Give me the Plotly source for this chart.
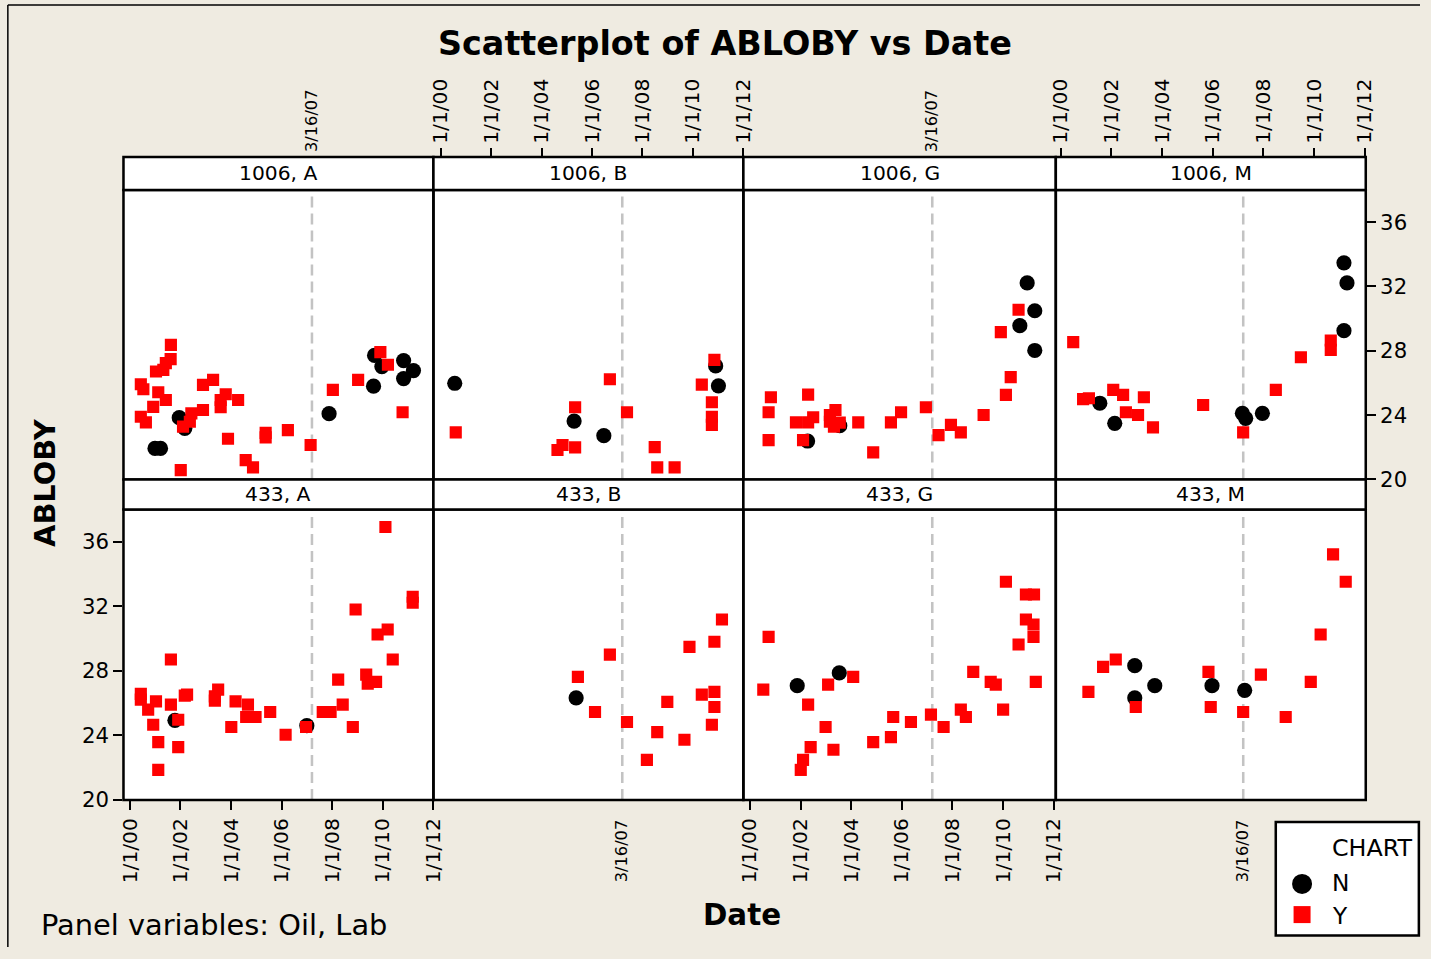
import plotly.graph_objects as go

# Elements are positioned in the 1431x959 pixel frame of the reference picture.
W, H = 1431, 959
# The photographed page shows up slightly reduced and shifted; compensate for it.
VIEW_SCALE = 0.9876
VIEW_DX, VIEW_DY = 7.0, 0.0
FONT = "DejaVu Sans"

# ---------------- axis labels ----------------
tick_years = [2000, 2002, 2004, 2006, 2008, 2010, 2012]
tick_labels = ["1/1/00", "1/1/02", "1/1/04", "1/1/06", "1/1/08", "1/1/10", "1/1/12"]
ref_date = 2007.203          # 3/16/07 as decimal year
ref_label = "3/16/07"
y_ticks = [20, 24, 28, 32, 36]

oils = ["1006", "433"]
labs = ["A", "B", "G", "M"]

# ---------------- data (Date as decimal year, ABLOBY) ----------------
# Oil 1006, Lab A
date_1006A_N = [2000.99, 2001.21, 2001.95, 2002.17, 2007.88, 2009.68, 2009.97, 2010.83, 2011.22, 2010.83, 2009.64]
abloby_1006A_N = [21.93, 21.93, 23.84, 23.18, 24.09, 27.71, 27.02, 27.39, 26.77, 26.27, 25.80]
date_1006A_Y = [2001.62, 2001.61, 2001.42, 2001.32, 2001.03, 2000.43, 2000.53, 2001.12, 2001.42, 2000.92,
                2000.43, 2000.63, 2002.89, 2003.29, 2003.79, 2003.59, 2003.59, 2004.28, 2002.89, 2002.43,
                2002.37, 2002.10, 2003.88, 2005.37, 2005.37, 2006.25, 2007.15, 2004.58, 2004.87, 2002.01,
                2008.03, 2009.03, 2009.91, 2010.21, 2010.79]
abloby_1006A_Y = [28.37, 27.48, 27.23, 26.81, 26.71, 25.92, 25.61, 25.42, 24.94, 24.51,
                  23.90, 23.55, 25.88, 26.19, 25.30, 24.94, 24.49, 24.94, 24.32, 24.11,
                  23.59, 23.28, 22.53, 22.90, 22.62, 23.07, 22.14, 21.20, 20.75, 20.58,
                  25.57, 26.19, 27.92, 27.13, 24.18]

# Oil 1006, Lab B
date_1006B_N = [2000.55, 2005.29, 2006.47, 2010.91, 2011.02]
abloby_1006B_N = [25.98, 23.63, 22.72, 27.06, 25.82]
date_1006B_Y = [2000.59, 2005.33, 2006.71, 2007.39, 2005.33, 2004.83, 2004.63, 2008.49, 2008.59, 2009.28,
                2010.36, 2010.86, 2010.76, 2010.76, 2010.76]
abloby_1006B_Y = [22.93, 24.49, 26.23, 24.18, 21.99, 22.14, 21.83, 22.01, 20.75, 20.75,
                  25.90, 27.44, 24.80, 23.90, 23.39]

# Oil 1006, Lab G
date_1006G_N = [2002.28, 2003.55, 2010.95, 2011.25, 2010.66, 2011.25]
abloby_1006G_N = [22.39, 23.34, 32.22, 30.49, 29.56, 28.02]
date_1006G_Y = [2000.83, 2000.74, 2000.74, 2002.30, 2001.82, 2002.30, 2002.50, 2002.10, 2003.16, 2003.38,
                2003.16, 2003.32, 2003.55, 2004.28, 2004.87, 2005.57, 2005.97, 2006.95, 2007.45, 2007.94,
                2008.33, 2009.23, 2010.11, 2010.30, 2009.91, 2010.61]
abloby_1006G_Y = [25.11, 24.18, 22.45, 25.27, 23.55, 23.55, 23.87, 22.45, 24.01, 24.32,
                  23.59, 23.28, 23.53, 23.55, 21.68, 23.55, 24.18, 24.49, 22.76, 23.39,
                  22.93, 24.01, 25.26, 26.36, 29.16, 30.55]

# Oil 1006, Lab M
date_1006M_N = [2001.54, 2002.13, 2007.17, 2007.30, 2007.96, 2011.18, 2011.30, 2011.18]
abloby_1006M_N = [24.74, 23.49, 24.11, 23.80, 24.11, 33.47, 32.22, 29.25]
date_1006M_Y = [2000.49, 2000.88, 2001.11, 2002.07, 2002.46, 2003.28, 2002.57, 2003.05, 2003.64, 2005.62,
                2007.20, 2008.49, 2009.48, 2010.66, 2010.66]
abloby_1006M_Y = [28.54, 24.99, 25.05, 25.57, 25.26, 25.11, 24.18, 24.01, 23.24, 24.63,
                  22.93, 25.57, 27.60, 28.64, 28.06]

# Oil 433, Lab A
date_433A_N = [2001.78, 2007.00]
abloby_433A_N = [24.93, 24.60]
date_433A_Y = [2000.43, 2000.43, 2000.72, 2001.03, 2000.92, 2001.12, 2001.12, 2001.62, 2001.62, 2001.91,
               2001.91, 2002.17, 2002.26, 2003.36, 2003.49, 2003.36, 2004.18, 2004.01, 2004.67, 2004.60,
               2004.97, 2005.55, 2006.16, 2006.97, 2007.63, 2007.94, 2008.24, 2008.42, 2008.82, 2008.93,
               2009.35, 2009.41, 2009.74, 2009.80, 2010.20, 2010.11, 2010.40, 2011.19, 2011.19]
abloby_433A_Y = [26.57, 26.21, 25.59, 26.11, 24.66, 23.58, 21.86, 28.70, 25.90, 24.97,
                 23.27, 26.46, 26.52, 26.42, 26.83, 26.15, 26.11, 24.52, 25.90, 25.14,
                 25.14, 25.45, 24.04, 24.52, 25.45, 25.45, 27.45, 25.90, 24.52, 31.80,
                 27.76, 27.20, 27.31, 30.25, 30.56, 36.91, 28.70, 32.59, 32.22]

# Oil 433, Lab B
date_433B_N = [2005.37]
abloby_433B_N = [26.32]
date_433B_Y = [2005.44, 2006.71, 2006.12, 2007.39, 2008.18, 2008.59, 2008.99, 2009.67, 2009.87, 2010.36,
               2010.86, 2010.86, 2010.76, 2010.86, 2011.16]
abloby_433B_Y = [27.62, 29.00, 25.45, 24.83, 22.48, 24.20, 26.07, 23.73, 29.48, 26.52,
                 26.69, 25.76, 24.66, 29.80, 31.18]

# Oil 433, Lab G
date_433G_N = [2001.87, 2003.53]
abloby_433G_N = [27.08, 27.87]
date_433G_Y = [2000.74, 2000.53, 2002.30, 2003.09, 2004.08, 2002.99, 2002.40, 2002.10, 2002.01, 2003.30,
               2004.87, 2005.57, 2005.66, 2006.36, 2007.15, 2007.65, 2008.33, 2008.53, 2008.82, 2009.51,
               2009.71, 2010.00, 2010.11, 2010.90, 2011.22, 2010.90, 2011.20, 2011.20, 2010.61, 2011.29]
abloby_433G_Y = [30.10, 26.83, 25.90, 27.14, 27.62, 24.52, 23.27, 22.48, 21.86, 23.11,
                 23.58, 23.89, 25.14, 24.83, 25.28, 24.52, 25.59, 25.14, 27.93, 27.31,
                 27.14, 25.59, 33.52, 32.73, 32.73, 31.18, 30.87, 30.10, 29.63, 27.31]

# Oil 433, Lab M
date_433M_N = [2002.92, 2002.92, 2003.71, 2005.97, 2007.26]
abloby_433M_N = [28.32, 26.32, 27.08, 27.08, 26.79]
date_433M_Y = [2001.09, 2001.67, 2002.17, 2002.96, 2005.83, 2005.92, 2007.20, 2007.90, 2008.88, 2009.87,
               2010.26, 2010.75, 2011.25]
abloby_433M_Y = [26.69, 28.24, 28.70, 25.76, 27.93, 25.76, 25.45, 27.76, 25.14, 27.31,
                 30.25, 35.22, 33.52]

data = {
    ("1006", "A"): (date_1006A_N, abloby_1006A_N, date_1006A_Y, abloby_1006A_Y),
    ("1006", "B"): (date_1006B_N, abloby_1006B_N, date_1006B_Y, abloby_1006B_Y),
    ("1006", "G"): (date_1006G_N, abloby_1006G_N, date_1006G_Y, abloby_1006G_Y),
    ("1006", "M"): (date_1006M_N, abloby_1006M_N, date_1006M_Y, abloby_1006M_Y),
    ("433", "A"): (date_433A_N, abloby_433A_N, date_433A_Y, abloby_433A_Y),
    ("433", "B"): (date_433B_N, abloby_433B_N, date_433B_Y, abloby_433B_Y),
    ("433", "G"): (date_433G_N, abloby_433G_N, date_433G_Y, abloby_433G_Y),
    ("433", "M"): (date_433M_N, abloby_433M_N, date_433M_Y, abloby_433M_Y),
}

# ---------------- layout geometry (pixels of the reference frame) ----------------
col_px = [(123.5, 433.5), (433.5, 743.5), (743.5, 1056.0), (1056.0, 1366.0)]
col_x0 = [130.0, 441.0, 750.0, 1061.0]      # pixel of 1/1/00 in each column
PX_PER_YEAR = 25.33
row_px = [(190.0, 479.5), (509.5, 800.0)]
strip_px = [(157.0, 190.0), (479.5, 509.5)]


def px(x):
    return (x - VIEW_DX) / (VIEW_SCALE * W)


def py(y):
    return 1 - (y - VIEW_DY) / (VIEW_SCALE * H)


def sz(v):
    return v / VIEW_SCALE


RED = "#FF0000"
BLACK = "#000000"
BG = "#EFEBE1"
BORDER_W = sz(2.5)

fig = go.Figure()
shapes = []
annotations = []
layout_axes = {}

date_tick_style = dict(
    ticks="outside", ticklen=sz(9), tickwidth=sz(2), tickcolor=BLACK,
    tickmode="array", tickvals=tick_years, ticktext=tick_labels,
    tickangle=-90, showticklabels=True,
    tickfont=dict(family=FONT, size=sz(20), color=BLACK),
)
y_tick_style = dict(
    ticks="outside", ticklen=sz(9), tickwidth=sz(2), tickcolor=BLACK,
    tickmode="array", tickvals=y_ticks, showticklabels=True,
    tickfont=dict(family=FONT, size=sz(21), color=BLACK),
)

for r, oil in enumerate(oils):
    for c, lab in enumerate(labs):
        k = r * 4 + c + 1
        xa = "x" if k == 1 else f"x{k}"
        ya = "y" if k == 1 else f"y{k}"
        dN, vN, dY, vY = data[(oil, lab)]

        fig.add_trace(go.Scatter(
            x=dN, y=vN, xaxis=xa, yaxis=ya, mode="markers", name="N",
            legendgroup="N", showlegend=False,
            marker=dict(symbol="circle", size=sz(15), color=BLACK, line=dict(width=0)),
        ))
        fig.add_trace(go.Scatter(
            x=dY, y=vY, xaxis=xa, yaxis=ya, mode="markers", name="Y",
            legendgroup="Y", showlegend=False,
            marker=dict(symbol="square", size=sz(12), color=RED, line=dict(width=0)),
        ))

        left, right = col_px[c]
        top, bot = row_px[r]
        x_lo = 2000 + (left - col_x0[c]) / PX_PER_YEAR
        x_hi = max(2000 + (right - col_x0[c]) / PX_PER_YEAR, 2012.01)

        xaxis = dict(domain=[px(left), px(right)], range=[x_lo, x_hi], anchor=ya,
                     showgrid=False, zeroline=False, showline=False,
                     ticks="", showticklabels=False)
        if r == 1 and c in (0, 2):
            xaxis.update(date_tick_style)
            xaxis.update(side="bottom")
        if r == 0 and c in (1, 3):
            xaxis.update(date_tick_style)
            xaxis.update(side="top", anchor="free", position=py(strip_px[0][0]))

        yaxis = dict(domain=[py(bot), py(top)], range=[20, 38], anchor=xa,
                     showgrid=False, zeroline=False, showline=False,
                     ticks="", showticklabels=False)
        if r == 1 and c == 0:
            yaxis.update(y_tick_style)
            yaxis.update(side="left")
        if r == 0 and c == 3:
            yaxis.update(y_tick_style)
            yaxis.update(side="right")

        layout_axes["xaxis" if k == 1 else f"xaxis{k}"] = xaxis
        layout_axes["yaxis" if k == 1 else f"yaxis{k}"] = yaxis

        # reference line at 3/16/07
        shapes.append(dict(type="line", xref=xa, yref=f"{ya} domain",
                           x0=ref_date, x1=ref_date, y0=0, y1=1,
                           line=dict(color="#C3C3C3", width=sz(2.5), dash="11px,6px"),
                           layer="below"))
        # panel border
        shapes.append(dict(type="rect", xref="paper", yref="paper",
                           x0=px(left), x1=px(right), y0=py(bot), y1=py(top),
                           line=dict(color=BLACK, width=BORDER_W), layer="above"))
        # strip
        s_top, s_bot = strip_px[r]
        shapes.append(dict(type="rect", xref="paper", yref="paper",
                           x0=px(left), x1=px(right), y0=py(s_bot), y1=py(s_top),
                           fillcolor="white", line=dict(color=BLACK, width=BORDER_W),
                           layer="above"))
        annotations.append(dict(text=f"{oil}, {lab}", xref="paper", yref="paper",
                                x=px((left + right) / 2), y=py((s_top + s_bot) / 2),
                                xanchor="center", yanchor="middle", showarrow=False,
                                font=dict(family=FONT, size=sz(20), color=BLACK)))

        # reference-date labels
        if r == 0 and c in (0, 2):
            annotations.append(dict(text=ref_label, xref=xa, yref="paper",
                                    x=ref_date, y=py(154), xanchor="center", yanchor="bottom",
                                    textangle=-90, showarrow=False,
                                    font=dict(family=FONT, size=sz(16), color=BLACK)))
        if r == 1 and c in (1, 3):
            annotations.append(dict(text=ref_label, xref=xa, yref="paper",
                                    x=ref_date, y=py(818), xanchor="center", yanchor="top",
                                    textangle=-90, showarrow=False,
                                    font=dict(family=FONT, size=sz(16), color=BLACK)))

# titles and notes
annotations += [
    dict(text="<b>Scatterplot of ABLOBY vs Date</b>", xref="paper", yref="paper",
         x=px(725), y=py(44), xanchor="center", yanchor="middle", showarrow=False,
         font=dict(family=FONT, size=sz(33), color=BLACK)),
    dict(text="<b>ABLOBY</b>", xref="paper", yref="paper",
         x=px(45), y=py(482), xanchor="center", yanchor="middle", textangle=-90,
         showarrow=False, font=dict(family=FONT, size=sz(28.5), color=BLACK)),
    dict(text="<b>Date</b>", xref="paper", yref="paper",
         x=px(742), y=py(915), xanchor="center", yanchor="middle",
         showarrow=False, font=dict(family=FONT, size=sz(29), color=BLACK)),
    dict(text="Panel variables: Oil, Lab", xref="paper", yref="paper",
         x=px(39), y=py(925), xanchor="left", yanchor="middle",
         showarrow=False, font=dict(family=FONT, size=sz(28.5), color=BLACK)),
]

# legend (drawn manually) and outer frame (kept inside the page)
shapes += [
    dict(type="rect", xref="paper", yref="paper", x0=px(1276), x1=min(px(1429.5), 0.9992),
         y0=py(935.5), y1=py(822), fillcolor="white",
         line=dict(color=BLACK, width=BORDER_W), layer="above"),
    dict(type="circle", xref="paper", yref="paper", x0=px(1292.3), x1=px(1312.3),
         y0=py(894), y1=py(874), fillcolor=BLACK, line=dict(width=0), layer="above"),
    dict(type="rect", xref="paper", yref="paper", x0=px(1293.8), x1=px(1310.8),
         y0=py(923.2), y1=py(906.2), fillcolor=RED, line=dict(width=0), layer="above"),
    dict(type="line", xref="paper", yref="paper", x0=0.0006, x1=0.0006, y0=0, y1=py(5),
         line=dict(color=BLACK, width=1.5), layer="below"),
    dict(type="line", xref="paper", yref="paper", x0=0.0006, x1=1, y0=py(5), y1=py(5),
         line=dict(color=BLACK, width=1.5), layer="below"),
]
annotations += [
    dict(text="CHART", xref="paper", yref="paper", x=px(1330), y=py(848),
         xanchor="left", yanchor="middle", showarrow=False,
         font=dict(family=FONT, size=sz(23.5), color=BLACK)),
    dict(text="N", xref="paper", yref="paper", x=px(1330), y=py(883),
         xanchor="left", yanchor="middle", showarrow=False,
         font=dict(family=FONT, size=sz(23), color=BLACK)),
    dict(text="Y", xref="paper", yref="paper", x=px(1330), y=py(916),
         xanchor="left", yanchor="middle", showarrow=False,
         font=dict(family=FONT, size=sz(23), color=BLACK)),
]

fig.update_layout(
    autosize=True,
    margin=dict(l=0, r=0, t=0, b=0),
    paper_bgcolor=BG,
    plot_bgcolor="white",
    showlegend=False,
    font=dict(family=FONT, color=BLACK),
    shapes=shapes,
    annotations=annotations,
    **layout_axes,
)

# let the figure fill the browser window exactly (no page margin, no scrollbars)
page_fix = (
    "document.documentElement.style.margin='0';"
    "document.body.style.margin='0';"
    "document.body.style.overflow='hidden';"
    "document.body.style.background='" + BG + "';"
)
fig.write_html(
    "out.html",
    post_script=page_fix,
    config={"displayModeBar": False, "responsive": True},
    default_width="100vw",
    default_height="100vh",
)
